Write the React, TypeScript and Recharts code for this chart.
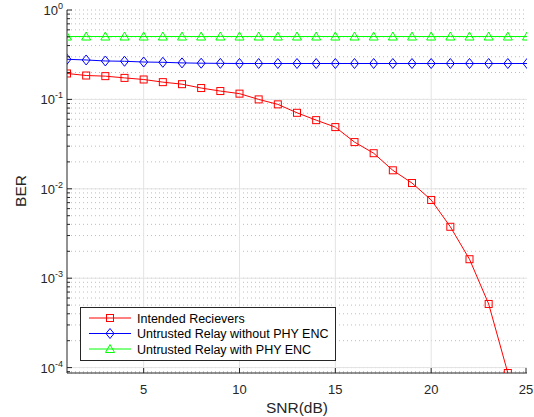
import React from 'react';
import { LineChart, Line, XAxis, YAxis, CartesianGrid, ReferenceLine } from 'recharts';

const snr = [1,2,3,4,5,6,7,8,9,10,11,12,13,14,15,16,17,18,19,20,21,22,23,24,25];
const intended = [0.195,0.185,0.182,0.174,0.167,0.156,0.148,0.134,0.124,0.116,0.100,0.088,0.0708,0.0586,0.049,0.0333,0.025,0.0161,0.0116,0.0075,0.00376,0.00163,0.000515,0.000087];
const relayNoEnc = [0.281,0.276,0.269,0.267,0.262,0.260,0.256,0.254,0.253,0.252,0.252,0.252,0.252,0.252,0.252,0.252,0.252,0.252,0.252,0.252,0.252,0.252,0.252,0.252,0.252];
const relayEnc = [0.505,0.505,0.505,0.505,0.505,0.505,0.505,0.505,0.505,0.505,0.505,0.505,0.505,0.505,0.505,0.505,0.505,0.505,0.505,0.505,0.505,0.505,0.505,0.505,0.505];
const xTicks = [5,10,15,20,25];
const decades = [1e-4,1e-3,1e-2,1e-1,1];
const decadeExp = [-4,-3,-2,-1,0];
const seriesNames = ['Intended Recievers','Untrusted Relay without PHY ENC','Untrusted Relay with PHY ENC'];
const seriesColors = ['#ff0000','#0000ff','#00ff00'];

const yTicks: number[] = [9e-5];
decades.forEach((d, i) => {
  if (i < decades.length - 1) {
    for (let m = 1; m <= 9; m++) yTicks.push(m * d);
  } else yTicks.push(d);
});

const data = snr.map((s, i) => ({
  snr: s,
  red: intended[i],
  blue: relayNoEnc[i],
  green: relayEnc[i],
}));

const AX = '#262626';
const FONT = '"Liberation Sans", Arial, Helvetica, sans-serif';

const isDecade = (v: number) => decades.some(d => Math.abs(v / d - 1) < 1e-6);

const LeftTick = (props: any) => {
  const { x, y, payload } = props;
  const v = payload.value;
  const major = isDecade(v);
  const idx = decades.findIndex(d => Math.abs(v / d - 1) < 1e-6);
  return (
    <g>
      <line x1={x} x2={x + (major ? 5 : 3)} y1={y} y2={y} stroke={AX} strokeWidth={1} />
      {major && (
        <text x={x - 4} y={y + 5} textAnchor="end" fontFamily={FONT} fontSize={13} fill={AX}>
          10<tspan dy={-6} fontSize={9}>{String(decadeExp[idx])}</tspan>
        </text>
      )}
    </g>
  );
};

const RightTick = (props: any) => {
  const { x, y, payload } = props;
  const major = isDecade(payload.value);
  return <line x1={x} x2={x - (major ? 5 : 3)} y1={y} y2={y} stroke={AX} strokeWidth={1} />;
};

const BottomTick = (props: any) => {
  const { x, y, payload } = props;
  return (
    <g>
      <line x1={x} x2={x} y1={y} y2={y - 5} stroke={AX} strokeWidth={1} />
      <text x={x} y={y + 21} textAnchor="middle" fontFamily={FONT} fontSize={13} fill={AX}>{payload.value}</text>
    </g>
  );
};

const TopTick = (props: any) => {
  const { x, y } = props;
  return <line x1={x} x2={x} y1={y} y2={y + 5} stroke={AX} strokeWidth={1} />;
};

const Square = ({ cx, cy, color }: any) => (
  <rect x={cx - 3.5} y={cy - 3.5} width={7} height={7} fill="none" stroke={color} strokeWidth={1} />
);
const Diamond = ({ cx, cy, color }: any) => (
  <path d={`M${cx},${cy - 5} L${cx + 4},${cy} L${cx},${cy + 5} L${cx - 4},${cy} Z`} fill="none" stroke={color} strokeWidth={1} />
);
const Triangle = ({ cx, cy, color }: any) => (
  <path d={`M${cx},${cy - 4.5} L${cx + 4.5},${cy + 3.5} L${cx - 4.5},${cy + 3.5} Z`} fill="none" stroke={color} strokeWidth={1} />
);
const markers = [Square, Diamond, Triangle];

const mkDot = (M: any, color: string) => (p: any) => {
  if (p.cx == null || p.cy == null || p.value == null) return <g key={p.key ?? p.index} />;
  return <M key={p.key ?? p.index} cx={p.cx} cy={p.cy} color={color} />;
};

const LegendBox = () => (
  <svg width={257} height={55} style={{ display: 'block' }}>
    <rect x={0.5} y={0.5} width={255} height={53} fill="#fff" stroke={AX} strokeWidth={1} />
    {seriesNames.map((n, i) => {
      const y = 11 + i * 15.5;
      const M = markers[i];
      return (
        <g key={n}>
          <line x1={9} x2={51} y1={y} y2={y} stroke={seriesColors[i]} strokeWidth={1} />
          <M cx={30} cy={y} color={seriesColors[i]} />
          <text x={57} y={y + 4.5} fontFamily={FONT} fontSize={12.5} fill="#000">{n}</text>
        </g>
      );
    })}
  </svg>
);

export default function App() {
  return (
    <div style={{ position: 'absolute', left: 0, top: 0, width: 534, height: 417, background: '#fff' }}>
      <LineChart width={534} height={417} data={data} margin={{ top: 10, right: 7, bottom: 0, left: 0 }}>
        <CartesianGrid vertical={false} yAxisId="left" stroke="#bdbdbd" strokeDasharray="1 3" />
        <XAxis dataKey="snr" type="number" domain={[1, 25]} ticks={xTicks} xAxisId="bottom" orientation="bottom"
          height={44} tickSize={0} tickMargin={0} tick={<BottomTick />} axisLine={{ stroke: AX }} tickLine={false} allowDataOverflow />
        <XAxis dataKey="snr" type="number" domain={[1, 25]} ticks={xTicks} xAxisId="top" orientation="top"
          height={0} tickSize={0} tickMargin={0} tick={<TopTick />} axisLine={{ stroke: AX }} tickLine={false} allowDataOverflow />
        <YAxis yAxisId="left" scale="log" domain={[8.7e-5, 1]} ticks={yTicks} width={67} tickSize={0} tickMargin={0}
          tick={<LeftTick />} axisLine={{ stroke: AX }} tickLine={false} allowDataOverflow interval={0} />
        <YAxis yAxisId="right" orientation="right" scale="log" domain={[8.7e-5, 1]} ticks={yTicks} width={0} tickSize={0} tickMargin={0}
          tick={<RightTick />} axisLine={{ stroke: AX }} tickLine={false} allowDataOverflow interval={0} />
        {xTicks.slice(0, 4).map(t => (
          <ReferenceLine key={'vx' + t} x={t} xAxisId="bottom" yAxisId="left" stroke="#e3e3e3" strokeWidth={1} />
        ))}
        {decades.slice(0, 4).map(d => (
          <ReferenceLine key={'hy' + d} y={d} xAxisId="bottom" yAxisId="left" stroke="#e3e3e3" strokeWidth={1} />
        ))}
        <Line xAxisId="bottom" yAxisId="left" dataKey="red" stroke={seriesColors[0]} strokeWidth={1} isAnimationActive={false}
          dot={mkDot(Square, seriesColors[0])} activeDot={false} />
        <Line xAxisId="bottom" yAxisId="left" dataKey="blue" stroke={seriesColors[1]} strokeWidth={1} isAnimationActive={false}
          dot={mkDot(Diamond, seriesColors[1])} activeDot={false} />
        <Line xAxisId="bottom" yAxisId="left" dataKey="green" stroke={seriesColors[2]} strokeWidth={1} isAnimationActive={false}
          dot={mkDot(Triangle, seriesColors[2])} activeDot={false} />
        <text x={297} y={413} textAnchor="middle" fontFamily={FONT} fontSize={15.5} fill={AX}>SNR(dB)</text>
        <text x={26} y={191} textAnchor="middle" fontFamily={FONT} fontSize={15.5} fill={AX} transform="rotate(-90 26 191)">BER</text>
      </LineChart>
      <div style={{ position: 'absolute', left: 80, top: 307 }}>
        <LegendBox />
      </div>
    </div>
  );
}
